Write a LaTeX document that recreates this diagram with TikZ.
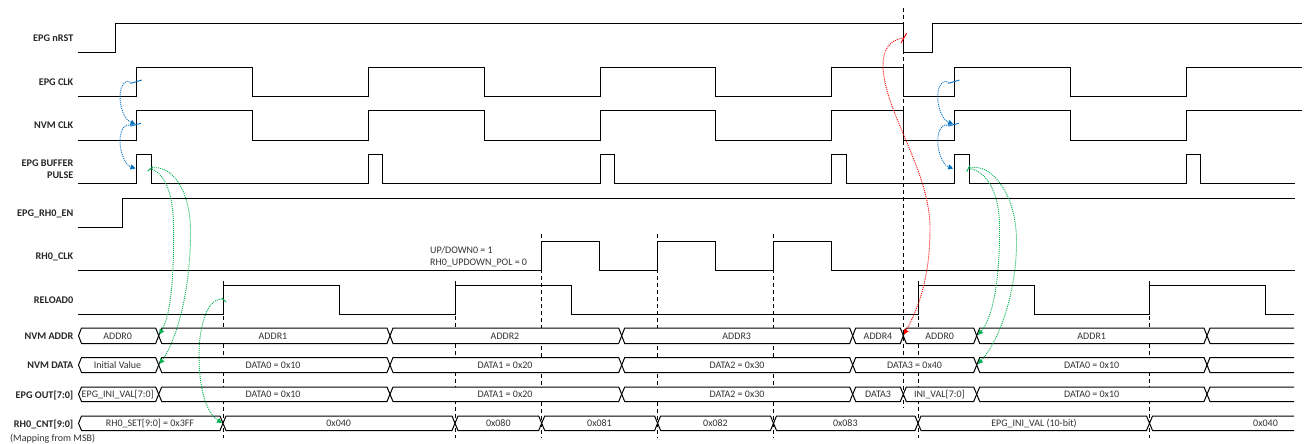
\documentclass[tikz,border=0pt]{standalone}
\usepackage{fontspec}
\setmainfont{Carlito}
\usetikzlibrary{arrows.meta}
\definecolor{cblue}{HTML}{0070C0}
\definecolor{cgreen}{HTML}{00B050}
\definecolor{cred}{HTML}{FF0000}
\tikzset{
  wave/.style={draw=black,line width=1pt,line join=miter},
  guide/.style={draw=black,line width=0.8pt,dash pattern=on 4pt off 3pt},
  busline/.style={draw=black,line width=1pt,line join=miter},
  sig/.style={font=\fontsize{10.2}{10.2}\selectfont\bfseries,anchor=base east,inner sep=0pt,text=black!85},
  bustext/.style={font=\fontsize{10}{10}\selectfont,anchor=base,inner sep=0pt,text=black!80},
  note/.style={font=\fontsize{10}{10}\selectfont,anchor=base west,inner sep=0pt,text=black!80},
  dotline/.style={line width=0.9pt,dash pattern=on 1pt off 1pt,-{Triangle[length=5pt,width=5pt]}},
  tailb/.style={line width=0.9pt,draw=cblue},
  tailg/.style={line width=0.9pt,draw=cgreen},
  tailr/.style={line width=0.9pt,draw=cred},
}
\newcommand{\busseg}[7]{% name top bot c1 c2 textx text
  \pgfmathsetmacro{\busm}{(#2+#3)/2}
  \path[busline,fill=white] (#4,\busm) -- (#4+3,#2) -- (#5-3,#2) -- (#5,\busm) -- (#5-3,#3) -- (#4+3,#3) -- cycle;
  \node[bustext] (#1) at (#6,\busm+3.3) {#7};
}
\newcommand{\busopen}[7]{% last segment, open on the right
  \pgfmathsetmacro{\busm}{(#2+#3)/2}
  \fill[white] (#4,\busm) -- (#4+3,#2) -- (#5,#2) -- (#5,#3) -- (#4+3,#3) -- cycle;
  \draw[busline] (#5,#2) -- (#4+3,#2) -- (#4,\busm) -- (#4+3,#3) -- (#5,#3);
  \node[bustext] (#1) at (#6,\busm+3.3) {#7};
}
\begin{document}
\begin{tikzpicture}[x=1pt,y=-1pt]
\useasboundingbox (0,0) rectangle (1316,444);
\fill[white] (0,0) rectangle (1316,444);

% guides
\draw[guide] (903.3,8) -- (903.3,408);
\foreach \gx in {223,455,918,1149.5} \draw[guide] (\gx,281) -- (\gx,438);
\foreach \gx in {541.7,657.6,773.5} \draw[guide] (\gx,234) -- (\gx,438);

% signal labels
\node[sig] (lnrst) at (73.5,41.3) {EPG nRST};
\node[sig] (lclk) at (73.5,85.3) {EPG CLK};
\node[sig] (lnvm) at (73.5,128.3) {NVM CLK};
\node[sig] (lbuf1) at (73.5,166.3) {EPG BUFFER};
\node[sig] (lbuf2) at (73.5,178.3) {PULSE};
\node[sig] (len) at (73.5,216.3) {EPG\_RH0\_EN};
\node[sig] (lrh) at (73.5,259.3) {RH0\_CLK};
\node[sig] (lrel) at (73.5,303.3) {RELOAD0};
\node[sig] (laddr) at (73.5,339.3) {NVM ADDR};
\node[sig] (ldata) at (73.5,368.3) {NVM DATA};
\node[sig] (lout) at (73.5,398.3) {EPG OUT[7:0]};
\node[sig] (lcnt) at (73.5,427.3) {RH0\_CNT[9:0]};
\node[note] (lmap) at (10,441) {(Mapping from MSB)};
\node[note] (nup) at (430,253) {UP/DOWN0 = 1};
\node[note] (npol) at (430,265.3) {RH0\_UPDOWN\_POL = 0};

% waveforms
\draw[wave] (78.3,52.5) -- (115,52.5) -- (115,23.5) -- (903.3,23.5) -- (903.3,52.5) -- (932,52.5) -- (932,23.5) -- (1302,23.5);
\draw[wave] (78.3,96.5) -- (136.5,96.5) -- (136.5,67) -- (252,67) -- (252,96.5) -- (368.5,96.5) -- (368.5,67) -- (484,67) -- (484,96.5) -- (600,96.5) -- (600,67) -- (715.5,67) -- (715.5,96.5) -- (831.5,96.5) -- (831.5,67) -- (903.3,67) -- (903.3,96.5) -- (954.5,96.5) -- (954.5,67) -- (1070,67) -- (1070,96.5) -- (1186,96.5) -- (1186,67) -- (1302,67);
\draw[wave] (78.3,140) -- (136.5,140) -- (136.5,110.5) -- (252,110.5) -- (252,140) -- (368.5,140) -- (368.5,110.5) -- (484,110.5) -- (484,140) -- (600,140) -- (600,110.5) -- (715.5,110.5) -- (715.5,140) -- (831.5,140) -- (831.5,110.5) -- (903.3,110.5) -- (903.3,140) -- (954.5,140) -- (954.5,110.5) -- (1070,110.5) -- (1070,140) -- (1186,140) -- (1186,110.5) -- (1302,110.5);
\draw[wave] (78.3,183.5) -- (136.5,183.5) -- (136.5,154.5) -- (151,154.5) -- (151,183.5) -- (368.5,183.5) -- (368.5,154.5) -- (382.5,154.5) -- (382.5,183.5) -- (600,183.5) -- (600,154.5) -- (614.5,154.5) -- (614.5,183.5) -- (831.5,183.5) -- (831.5,154.5) -- (846,154.5) -- (846,183.5) -- (954.5,183.5) -- (954.5,154.5) -- (969,154.5) -- (969,183.5) -- (1186,183.5) -- (1186,154.5) -- (1200.5,154.5) -- (1200.5,183.5) -- (1295,183.5);
\draw[wave] (78.3,227) -- (122,227) -- (122,198) -- (1295,198);
\draw[wave] (78.3,270.5) -- (541.7,270.5) -- (541.7,241.5) -- (599.5,241.5) -- (599.5,270.5) -- (657.6,270.5) -- (657.6,241.5) -- (715.5,241.5) -- (715.5,270.5) -- (773.5,270.5) -- (773.5,241.5) -- (831.5,241.5) -- (831.5,270.5) -- (1295,270.5);
\draw[wave] (78.3,314.5) -- (223,314.5) -- (223,285) -- (339.5,285) -- (339.5,314.5) -- (455,314.5) -- (455,285) -- (571,285) -- (571,314.5) -- (918,314.5) -- (918,285) -- (1034,285) -- (1034,314.5) -- (1149.5,314.5) -- (1149.5,285) -- (1265.5,285) -- (1265.5,314.5) -- (1294,314.5);

% NVM ADDR
\busseg{a0}{328}{343.5}{78.5}{158.7}{117.7}{ADDR0}
\busseg{a1}{328}{343.5}{158.7}{390}{273}{ADDR1}
\busseg{a2}{328}{343.5}{390}{621.7}{505}{ADDR2}
\busseg{a3}{328}{343.5}{621.7}{852.7}{736.7}{ADDR3}
\busseg{a4}{328}{343.5}{852.7}{903.3}{878}{ADDR4}
\busseg{a5}{328}{343.5}{903.3}{976.7}{939.7}{ADDR0}
\busseg{a6}{328}{343.5}{976.7}{1207}{1091.7}{ADDR1}
\busopen{a7}{328}{343.5}{1207}{1294}{1250}{}
% NVM DATA
\busseg{d0}{357.5}{372.5}{78.5}{158.7}{117.5}{Initial Value}
\busseg{d1}{357.5}{372.5}{158.7}{390}{273}{DATA0 = 0x10}
\busseg{d2}{357.5}{372.5}{390}{621.7}{505}{DATA1 = 0x20}
\busseg{d3}{357.5}{372.5}{621.7}{852.7}{737}{DATA2 = 0x30}
\busseg{d4}{357.5}{372.5}{852.7}{976.7}{914.5}{DATA3 = 0x40}
\busseg{d5}{357.5}{372.5}{976.7}{1207}{1091.7}{DATA0 = 0x10}
\busopen{d6}{357.5}{372.5}{1207}{1294}{1250}{}
% EPG OUT
\busseg{o0}{387}{401.5}{78.5}{158.7}{117.7}{EPG\_INI\_VAL[7:0]}
\busseg{o1}{387}{401.5}{158.7}{390}{273}{DATA0 = 0x10}
\busseg{o2}{387}{401.5}{390}{621.7}{505}{DATA1 = 0x20}
\busseg{o3}{387}{401.5}{621.7}{852.7}{737}{DATA2 = 0x30}
\busseg{o4}{387}{401.5}{852.7}{903.3}{878}{DATA3}
\busseg{o5}{387}{401.5}{903.3}{976.7}{939.3}{INI\_VAL[7:0]}
\busseg{o6}{387}{401.5}{976.7}{1207}{1091.7}{DATA0 = 0x10}
\busopen{o7}{387}{401.5}{1207}{1294}{1250}{}
% RH0 CNT
\busseg{c0}{416}{430.5}{78.5}{223}{150}{RH0\_SET[9:0] = 0x3FF}
\busseg{c1}{416}{430.5}{223}{455}{338.7}{0x040}
\busseg{c2}{416}{430.5}{455}{541.7}{498.3}{0x080}
\busseg{c3}{416}{430.5}{541.7}{657.6}{599.5}{0x081}
\busseg{c4}{416}{430.5}{657.6}{773.5}{715.5}{0x082}
\busseg{c5}{416}{430.5}{773.5}{918}{845.3}{0x083}
\busseg{c6}{416}{430.5}{918}{1149.5}{1034}{EPG\_INI\_VAL (10-bit)}
\busopen{c7}{416}{430.5}{1149.5}{1294}{1265.5}{0x040}

% blue relations
\foreach \sx/\sn in {0/L,817.7/R}{
\begin{scope}[xshift=\sx pt]
  \coordinate (bt1\sn) at (131,83.3);
  \coordinate (bu1\sn) at (141.7,80);
  \coordinate (be1\sn) at (135.5,124.3);
  \coordinate (bt2\sn) at (131,126);
  \coordinate (bu2\sn) at (141,123.3);
  \coordinate (be2\sn) at (135.5,168.5);
  \draw[tailb] (bt1\sn) -- (bu1\sn);
  \draw[tailb] (bt2\sn) -- (bu2\sn);
  \draw[dotline,cblue] (bt1\sn) .. controls (127,78) and (120,84) .. (120,97) .. controls (120,108) and (125,120) .. (be1\sn);
  \draw[dotline,cblue] (bt2\sn) .. controls (127,122) and (120,128) .. (120,141) .. controls (120,152) and (125,165) .. (be2\sn);
\end{scope}}

% green relations
\coordinate (g1s) at (150,168.5);
\coordinate (g1e) at (159.5,334.5);
\coordinate (g2e) at (159.5,364);
\coordinate (g3s) at (223.5,299.5);
\coordinate (g3e) at (222,423);
\draw[tailg] (147.7,171) -- (153,166.7);
\draw[dotline,cgreen] (g1s) .. controls (163,172) and (173,190) .. (173.5,225) .. controls (174,270) and (172,312) .. (g1e);
\draw[dotline,cgreen] (g1s) .. controls (168,163) and (190,185) .. (190.5,230) .. controls (191,280) and (180,335) .. (g2e);
\draw[tailg] (221.7,298) -- (226,302);
\draw[dotline,cgreen] (g3s) .. controls (208,296) and (199,325) .. (199,355) .. controls (199,385) and (205,412) .. (g3e);

\coordinate (g4s) at (968.5,168.5);
\coordinate (g4e) at (978,335);
\coordinate (g5e) at (978,364);
\draw[tailg] (966.7,171.7) -- (970,165);
\draw[dotline,cgreen] (g4s) .. controls (985,170) and (999,190) .. (999.5,225) .. controls (1000,270) and (995,315) .. (g4e);
\draw[dotline,cgreen] (g4s) .. controls (988,161) and (1016,190) .. (1016.5,240) .. controls (1017,290) and (1000,340) .. (g5e);

% red relation
\coordinate (rs) at (903.5,38);
\coordinate (re) at (904,334.5);
\draw[tailr] (906.7,33) -- (901,43);
\draw[dotline,cred] (rs) .. controls (888,40) and (883,52) .. (883,65) .. controls (883,110) and (930,170) .. (930,228) .. controls (930,275) and (920,305) .. (re);
\end{tikzpicture}
\end{document}
